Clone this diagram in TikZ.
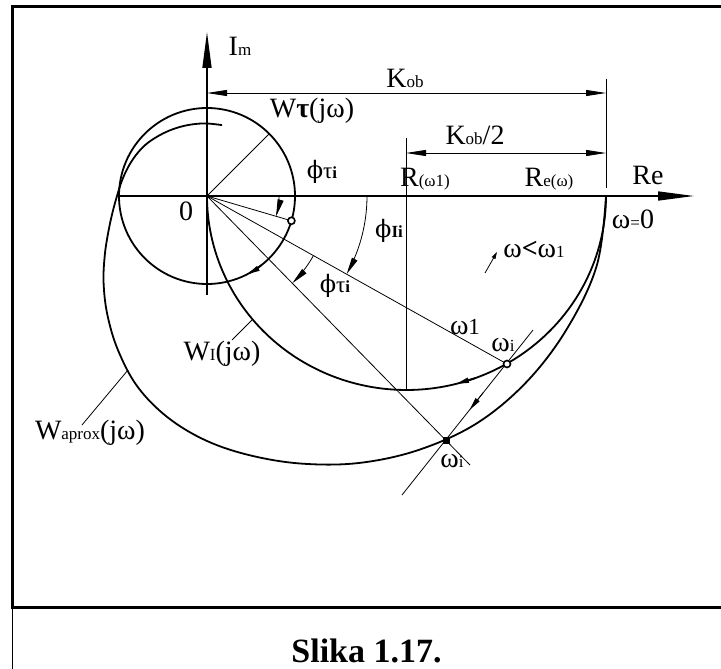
\documentclass[tikz,border=0pt]{standalone}
\usepackage{fontspec}
\setmainfont{Liberation Serif}
\newfontfamily\phifont{DejaVu Serif}
\usetikzlibrary{arrows.meta}
\newcommand\mysub{\fontsize{17}{19}\selectfont}
\newcommand\mymid{\fontsize{23}{25}\selectfont}
\newcommand\myphi{{\phifont\fontsize{24}{26}\selectfont ϕ}}
\tikzset{
  axtip/.tip={Triangle[length=36pt,width=9pt]},
  dimtip/.tip={Triangle[length=20pt,width=6pt]},
  arctip/.tip={Triangle[length=17pt,width=6pt]},
  midtip/.tip={Triangle[length=13pt,width=5pt]},
  smalltip/.tip={Triangle[length=7pt,width=4pt]},
  thickc/.style={line width=1.8pt},
  thinl/.style={line width=0.8pt},
  lbl/.style={inner sep=0pt, font=\fontsize{28}{30}\selectfont},
  ring/.style={circle, draw, line width=1.6pt, fill=white, inner sep=0pt, minimum size=7pt},
  sqdot/.style={fill=black, inner sep=0pt, minimum size=7pt}
}
\begin{document}
\begin{tikzpicture}[x=1pt,y=-1pt]
\useasboundingbox (0,0) rectangle (721,669);
% frame
\draw[line width=3pt] (721,6.5) -- (12.5,6.5) -- (12.5,607.5) -- (721,607.5);
\draw[line width=0.8pt] (12.5,607.5) -- (12.5,669);
\coordinate (O) at (207,196);
% axes
\draw[line width=1.5pt,-{axtip}] (118,196) -- (694,196);
\draw[line width=1.5pt,-{axtip}] (207,295) -- (207,32);
% dimension lines
\coordinate (K0) at (207,93);
\coordinate (K1) at (606,93);
\coordinate (H0) at (406,153);
\coordinate (H1) at (606,153);
\draw[thinl] (606,79) -- (606,188);
\draw[thinl] (406,138) -- (406,390);
\draw[thinl,{dimtip}-{dimtip}] (K0) -- (K1);
\draw[thinl,{dimtip}-{dimtip}] (H0) -- (H1);
% W tau circle
\draw[thickc] (O) circle[radius=88pt];
\draw[thinl] (O) -- ++(-45:88);
% W1 semicircle (ellipse)
\draw[thickc] plot[domain=180:360,samples=120] ({406.5+199.5*cos(\x)},{196-194*sin(\x)});
% Waprox (polar about O, angle clockwise on screen)
\begin{scope}[shift={(207,196)}]
\draw[thickc] plot[smooth,tension=0.6] coordinates {(0:399) (10:396) (20:384) (30:370) (40:353) (50:331) (60:308) (70:285) (80:264) (90:245) (100:225) (110:203) (120:178) (130:155) (140:135) (150:118) (160:105) (170:96) (180:90) (190:86.5) (200:84) (210:82) (220:80) (230:77.5) (240:75.5) (250:74) (260:73) (270:72.5) (282:72.5)};
\end{scope}
% rays
\coordinate (P1) at (291.4,220.8);
\coordinate (P2) at (507,364);
\coordinate (P3) at (446,440);
\coordinate (P3e) at (470,465);
\draw[thinl] (O) -- (P1);
\draw[thinl] (O) -- (P2);
\draw[thinl] (O) -- (P3e);
% tangent line
\coordinate (T0) at (533,330);
\coordinate (T1) at (402,495);
\draw[thinl] (T0) -- (T1);
\draw[thinl,-{midtip}] (483.2,392.6) -- (469.6,409.9);
% angle arcs
\draw[thinl,-{arctip}] plot[domain=0:16.4,samples=12] ({207+72*cos(\x)},{196+72*sin(\x)});
\draw[thinl,-{arctip}] plot[domain=0:29.2,samples=20] ({207+160*cos(\x)},{196+160*sin(\x)});
\draw[thinl,-{arctip}] plot[domain=29.2:45.6,samples=12] ({207+122*cos(\x)},{196+122*sin(\x)});
% direction arrows on curves
\draw[thickc,-{midtip}] plot[domain=52:63,samples=6] ({207+88*cos(\x)},{196+88*sin(\x)});
\draw[thickc,-{midtip}] (474.7,378.3) -- (456,383.9);
\draw[thinl,-{smalltip}] (485,273) -- (497,252);
% leaders
\draw[thinl] (232,340) -- (252,320);
\draw[thinl] (82,425) -- (128,370);
% points
\node[ring] (p1) at (P1) {};
\node[ring] (p2) at (P2) {};
\node[sqdot] (p3) at (P3) {};
% labels
\node[lbl] (im) at (240,46) {I{\mysub m}};
\node[lbl] (kob) at (405,78) {K{\mysub ob}};
\node[lbl] (wt) at (312,111) {W{\bfseries τ}(jω)};
\node[lbl] (kob2) at (475,135) {K{\mysub ob}/2};
\node[lbl] (ft1) at (322,172) {\myphi{\mymid τ}{\mysub\bfseries i}};
\node[lbl] (zero) at (186,211) {0};
\node[lbl] (rw1) at (425,179) {R{\mysub (ω1)}};
\node[lbl] (rew) at (549,179) {R{\mysub e(ω)}};
\node[lbl] (re) at (648,175) {Re};
\node[lbl] (w0) at (633,219) {ω{\mysub =}0};
\node[lbl] (f1i) at (389,231) {\myphi{\mysub\bfseries Ii}};
\node[lbl] (wlt) at (534,249) {ω{\bfseries <}ω{\mysub 1}};
\node[lbl] (ft2) at (335,286) {\myphi{\mymid τ}{\mysub\bfseries i}};
\node[lbl] (w1l) at (222,354) {W{\mysub I}(jω)};
\node[lbl] (wap) at (90,433) {W{\mysub aprox}(jω)};
\node[lbl] (om1) at (465,327) {ω{\mymid 1}};
\node[lbl] (omi1) at (503,345) {ω{\mysub i}};
\node[lbl] (omi2) at (452,461) {ω{\mysub i}};
\node[anchor=base, inner sep=0pt, font=\bfseries\fontsize{34}{36}\selectfont] (cap) at (366.5,662) {Slika 1.17.};
\end{tikzpicture}
\end{document}
